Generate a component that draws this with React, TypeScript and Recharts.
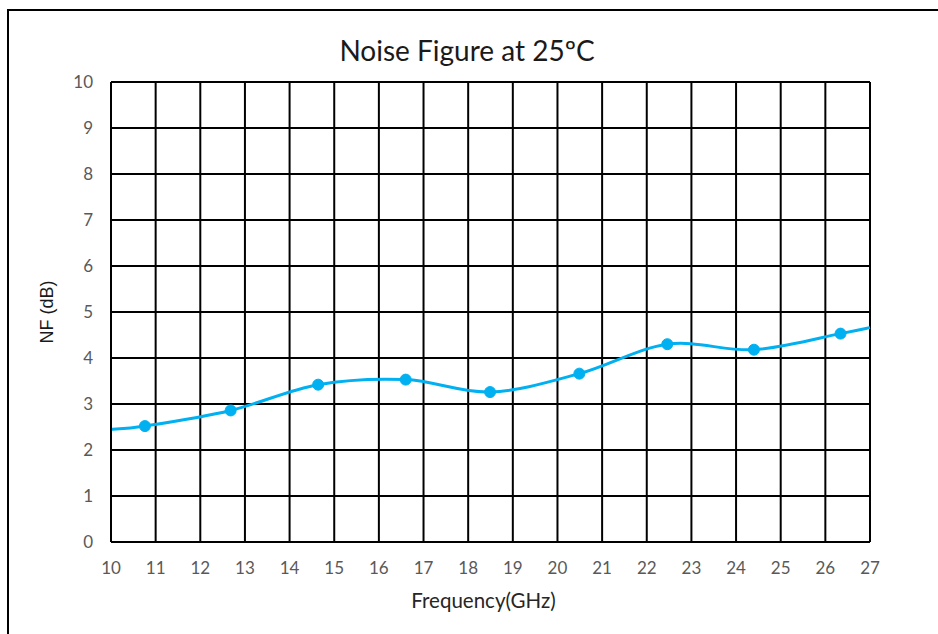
import React from "react";
import { LineChart, Line, XAxis, YAxis, CartesianGrid, Label } from "recharts";

const frequencies = [10, 10.76, 12.68, 14.64, 16.6, 18.49, 20.49, 22.46, 24.4, 26.34, 27];
const noiseFigure = [2.45, 2.52, 2.86, 3.42, 3.53, 3.26, 3.66, 4.3, 4.18, 4.53, 4.66];
const markerShown = [false, true, true, true, true, true, true, true, true, true, false];
const xTicks = [10, 11, 12, 13, 14, 15, 16, 17, 18, 19, 20, 21, 22, 23, 24, 25, 26, 27];
const yTicks = [0, 1, 2, 3, 4, 5, 6, 7, 8, 9, 10];

const data = frequencies.map((f, i) => ({ f, nf: noiseFigure[i], m: markerShown[i] }));

// Catmull-Rom style smoothing (like Excel's smoothed line)
const smoothCurve = (context: any) => {
  let pts: number[][] = [];
  return {
    areaStart() {},
    areaEnd() {},
    lineStart() {
      pts = [];
    },
    point(x: number, y: number) {
      pts.push([+x, +y]);
    },
    lineEnd() {
      if (!pts.length) return;
      context.moveTo(pts[0][0], pts[0][1]);
      for (let i = 0; i < pts.length - 1; i++) {
        const p0 = pts[i - 1] || pts[i];
        const p1 = pts[i];
        const p2 = pts[i + 1];
        const p3 = pts[i + 2] || p2;
        const c1x = p1[0] + (p2[0] - p0[0]) / 6;
        const c1y = p1[1] + (p2[1] - p0[1]) / 6;
        const c2x = p2[0] - (p3[0] - p1[0]) / 6;
        const c2y = p2[1] - (p3[1] - p1[1]) / 6;
        context.bezierCurveTo(c1x, c1y, c2x, c2y, p2[0], p2[1]);
      }
    },
  };
};

const renderDot = (props: any) => {
  const { cx, cy, payload, index } = props;
  if (!payload || !payload.m) return <g key={`d${index}`} />;
  return <circle key={`d${index}`} cx={cx} cy={cy} r={5.5} fill="#00B0F0" stroke="#00B0F0" strokeWidth={1} />;
};

export default function App() {
  return (
    <div style={{ position: "absolute", left: 0, top: 0, width: 938, height: 634, overflow: "hidden", background: "#fff" }}>
      <div
        style={{
          position: "absolute",
          left: 7,
          top: 9,
          width: 960,
          height: 660,
          border: "2px solid #000",
          boxSizing: "border-box",
        }}
      />
      <div
        style={{
          position: "absolute",
          left: 0,
          width: 934,
          top: 32,
          textAlign: "center",
          fontFamily: "Lato",
          fontSize: 28,
          color: "#1a1a1a",
          lineHeight: "36px",
        }}
      >
        Noise Figure at 25ºC
      </div>
      <div style={{ position: "absolute", left: 0, top: 0 }}>
        <LineChart width={938} height={634} data={data} margin={{ top: 82, right: 68, bottom: 0, left: 0 }}>
          <CartesianGrid stroke="#000" strokeWidth={2} horizontal vertical />
          <XAxis
            dataKey="f"
            type="number"
            domain={[10, 27]}
            ticks={xTicks}
            interval={0}
            axisLine={{ stroke: "#000", strokeWidth: 2 }}
            tickLine={false}
            tickSize={0}
            tickMargin={20}
            tick={{ fill: "#595959", fontFamily: "Lato", fontSize: 17 }}
            height={92}
          >
            <Label
              value="Frequency(GHz)"
              position="insideTop"
              offset={51}
              dx={-7}
              style={{ fill: "#262626", fontFamily: "Lato", fontSize: 20.5 }}
            />
          </XAxis>
          <YAxis
            type="number"
            domain={[0, 10]}
            ticks={yTicks}
            interval={0}
            width={111}
            axisLine={{ stroke: "#000", strokeWidth: 2 }}
            tickLine={false}
            tickSize={0}
            tickMargin={18}
            tick={{ fill: "#595959", fontFamily: "Lato", fontSize: 17 }}
          >
            <Label
              value="NF (dB)"
              angle={-90}
              position="insideLeft"
              offset={47}
              style={{ fill: "#1a1a1a", fontFamily: "Liberation Sans", fontSize: 18, textAnchor: "middle" }}
            />
          </YAxis>
          <Line
            dataKey="nf"
            type={smoothCurve as any}
            stroke="#00B0F0"
            strokeWidth={3}
            dot={renderDot}
            activeDot={false}
            isAnimationActive={false}
          />
        </LineChart>
      </div>
    </div>
  );
}
